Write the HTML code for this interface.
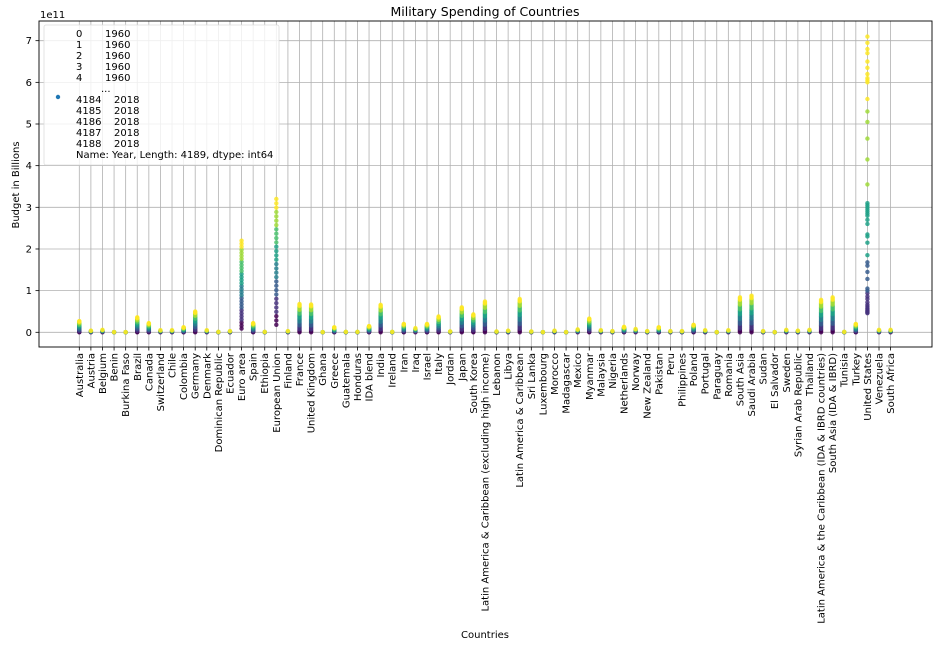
<!DOCTYPE html>
<html><head><meta charset="utf-8"><style>
html,body{margin:0;padding:0;background:#fff}
svg{display:block;font-family:"DejaVu Sans","Liberation Sans",sans-serif}
</style></head><body>
<svg id="s" width="943" height="649" xmlns="http://www.w3.org/2000/svg"></svg>
<script>
const names=["Australia","Austria","Belgium","Benin","Burkina Faso","Brazil","Canada","Switzerland","Chile","Colombia","Germany","Denmark","Dominican Republic","Ecuador","Euro area","Spain","Ethiopia","European Union","Finland","France","United Kingdom","Ghana","Greece","Guatemala","Honduras","IDA blend","India","Ireland","Iran","Iraq","Israel","Italy","Jordan","Japan","South Korea","Latin America & Caribbean (excluding high income)","Lebanon","Libya","Latin America & Caribbean","Sri Lanka","Luxembourg","Morocco","Madagascar","Mexico","Myanmar","Malaysia","Nigeria","Netherlands","Norway","New Zealand","Pakistan","Peru","Philippines","Poland","Portugal","Paraguay","Romania","South Asia","Saudi Arabia","Sudan","El Salvador","Sweden","Syrian Arab Republic","Thailand","Latin America & the Caribbean (IDA & IBRD countries)","South Asia (IDA & IBRD)","Tunisia","Turkey","United States","Venezuela","South Africa"];
const mx=[2.7,0.4,0.6,0.05,0.05,3.6,2.2,0.5,0.5,1.2,5.0,0.5,0.1,0.3,22,2.2,0.1,32,0.3,6.8,6.7,0.05,1.2,0.1,0.1,1.5,6.6,0.1,2.0,1.0,2.0,3.8,0.2,6.0,4.3,7.4,0.2,0.4,8.0,0.2,0.05,0.4,0.05,0.7,3.3,0.5,0.3,1.3,0.8,0.3,1.2,0.3,0.3,1.8,0.5,0.05,0.5,8.4,8.8,0.3,0.05,0.6,0.4,0.6,7.8,8.4,0.1,2.0,71,0.6,0.6];
const mn={14:0.9,17:1.8,68:4.6};
const vir=["#440154","#46327e","#365c8d","#277f8e","#1fa187","#4ac16d","#a0da39","#fde725"];
function col(f){return vir[Math.min(7,Math.max(0,Math.round(f*7)))];}
const L=39,R=932,T=21,B=347,y0=332.3,u=4.166;
const X=i=>79.3+i*11.59, Y=v=>y0-v*u;
let h='';
h+=`<text x="485" y="16" font-size="12.5" text-anchor="middle">Military Spending of Countries</text>`;
h+=`<text x="40" y="18" font-size="10">1e11</text>`;
for(let k=0;k<=7;k++){const y=Y(k*10);h+=`<line x1="${L}" x2="${R}" y1="${y}" y2="${y}" stroke="#b0b0b0" stroke-width="0.8"/><line x1="${L-3.5}" x2="${L}" y1="${y}" y2="${y}" stroke="#000" stroke-width="0.8"/><text x="${L-7}" y="${y+3.5}" font-size="10" text-anchor="end">${k}</text>`;}
names.forEach((n,i)=>{const x=X(i);h+=`<line x1="${x}" x2="${x}" y1="${T}" y2="${B}" stroke="#b0b0b0" stroke-width="0.8"/><line x1="${x}" x2="${x}" y1="${B}" y2="${B+3.5}" stroke="#000" stroke-width="0.8"/><text transform="translate(${x+3.5},${B+6}) rotate(-90)" font-size="10" text-anchor="end">${n}</text>`;});
names.forEach((n,i)=>{const x=X(i),a=mn[i]||0,b=mx[i];
if(i==68){const vs=[4.6,4.8,5,5.2,5.5,5.8,6.2,6.6,7.2,8,8.6,9.4,10,10.5,12.8,14.5,16,16.8,18.5,21.5,23,23.5,26,27,28,28.5,29,29.5,30,30.5,31,35.5,41.5,46.5,50.5,53,56,60,60.5,61,62,63.5,65,67,68,69.5,71];
vs.forEach(v=>{const f=v<10?0.15:v<18?0.35:v<32?0.6:0.85;h+=`<circle cx="${x}" cy="${Y(v)}" r="2.2" fill="${col(v>55?0.95:f)}" opacity="0.85"/>`;});return;}
const N=b>1?30:6;
for(let j=0;j<N;j++){let f=j/(N-1);let v=a+(b-a)*f;h+=`<circle cx="${x}" cy="${Y(v)}" r="2.2" fill="${col(f)}" opacity="0.85"/>`;}});
h+=`<rect x="${L}" y="${T}" width="${R-L}" height="${B-T}" fill="none" stroke="#000" stroke-width="0.9"/>`;
h+=`<rect x="44" y="25" width="235" height="140" fill="#fff" fill-opacity="0.8" stroke="#ddd" stroke-width="0.8" rx="2"/>`;
h+=`<circle cx="58" cy="97" r="2.2" fill="#1f77b4"/>`;
const lines=[["0","1960"],["1","1960"],["2","1960"],["3","1960"],["4","1960"]];
lines.forEach((l,k)=>{const y=37+k*11;h+=`<text x="76" y="${y}" font-size="10">${l[0]}</text><text x="105" y="${y}" font-size="10">${l[1]}</text>`;});
h+=`<text x="101" y="92" font-size="10">...</text>`;
["4184","4185","4186","4187","4188"].forEach((l,k)=>{const y=103+k*11;h+=`<text x="76" y="${y}" font-size="10">${l}</text><text x="114" y="${y}" font-size="10">2018</text>`;});
h+=`<text x="76" y="158" font-size="10">Name: Year, Length: 4189, dtype: int64</text>`;
h+=`<text transform="translate(19,185) rotate(-90)" font-size="10" text-anchor="middle">Budget in Billions</text>`;
h+=`<text x="485" y="638" font-size="10" text-anchor="middle">Countries</text>`;
document.getElementById('s').innerHTML=h;
</script>
</body></html>
